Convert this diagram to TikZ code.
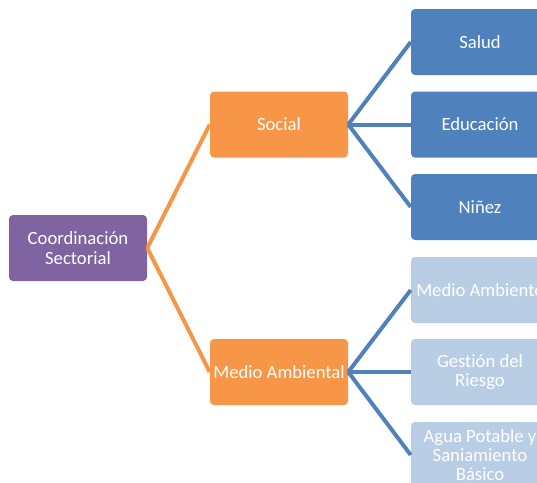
\documentclass[tikz,border=0pt]{standalone}
\usepackage{fontspec}
\setmainfont[Ligatures=NoCommon]{Carlito}
\definecolor{cpurple}{HTML}{8064A2}
\definecolor{corange}{HTML}{F79646}
\definecolor{cblue}{HTML}{4F81BD}
\definecolor{clight}{HTML}{B9CDE5}
\tikzset{
  box/.style={rounded corners=3pt, minimum width=103.5pt, minimum height=49.5pt, inner sep=0pt, text=white, align=center, font=\fontsize{14}{14.5}\selectfont},
  rootbox/.style={box, fill=cpurple},
  midbox/.style={box, fill=corange},
  leafbox/.style={box, fill=cblue},
  fadebox/.style={box, fill=clight},
  oline/.style={draw=corange, line width=3pt},
  bline/.style={draw=cblue, line width=3pt},
}
\begin{document}
\begin{tikzpicture}[x=0.75pt, y=-0.75pt]
\useasboundingbox (0,0) rectangle (537,483);
\clip (0,0) rectangle (537,483);
\node[rootbox] (root) at (78,248) {Coordinación\\Sectorial};
\node[midbox] (soc) at (279,124.5) {Social};
\node[midbox] (med) at (279,372) {Medio Ambiental};
\node[leafbox] (sal) at (480,42) {Salud};
\node[leafbox] (edu) at (480,124.5) {Educación};
\node[leafbox] (nin) at (480,207) {Niñez};
\node[fadebox] (mam) at (480,290) {Medio Ambiente};
\node[fadebox] (ges) at (480,372) {Gestión del\\Riesgo};
\node[fadebox] (agu) at (480,455) {Agua Potable y\\Saniamiento\\Básico};
\draw[oline] (root.east) -- (soc.west);
\draw[oline] (root.east) -- (med.west);
\draw[bline] (soc.east) -- (sal.west);
\draw[bline] (soc.east) -- (edu.west);
\draw[bline] (soc.east) -- (nin.west);
\draw[bline] (med.east) -- (mam.west);
\draw[bline] (med.east) -- (ges.west);
\draw[bline] (med.east) -- (agu.west);
\end{tikzpicture}
\end{document}
